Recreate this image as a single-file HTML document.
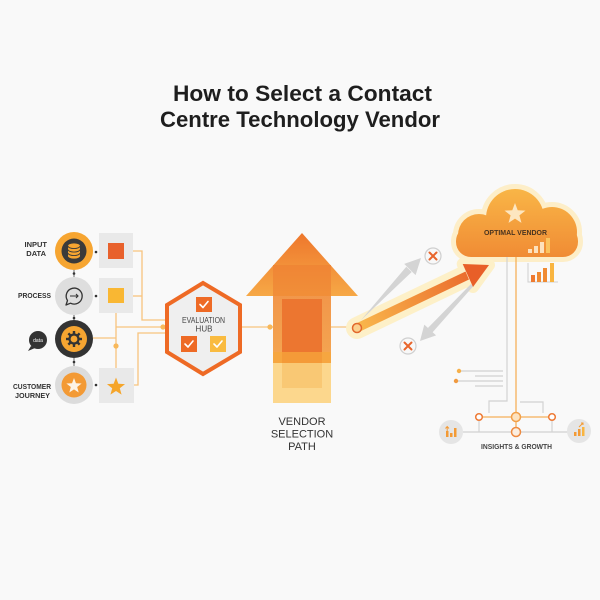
<!DOCTYPE html>
<html><head><meta charset="utf-8"><style>
html,body{margin:0;padding:0;background:#f9f9f9;}
svg{display:block;}
text{font-family:"Liberation Sans",sans-serif;}
</style></head><body>
<svg width="600" height="600" viewBox="0 0 600 600" xmlns="http://www.w3.org/2000/svg">
<defs>
<linearGradient id="headG" x1="0" y1="233" x2="0" y2="296" gradientUnits="userSpaceOnUse"><stop offset="0" stop-color="#ee772c"/><stop offset="1" stop-color="#f6a846"/></linearGradient>
<linearGradient id="shaftG" x1="0" y1="265" x2="0" y2="352" gradientUnits="userSpaceOnUse"><stop offset="0" stop-color="#ef8434"/><stop offset="1" stop-color="#f39a3d"/></linearGradient>
<linearGradient id="arrG" x1="357" y1="328" x2="489" y2="265" gradientUnits="userSpaceOnUse"><stop offset="0" stop-color="#f9b84c"/><stop offset="1" stop-color="#e85f28"/></linearGradient>
<linearGradient id="cloudG" x1="0" y1="188" x2="0" y2="258" gradientUnits="userSpaceOnUse"><stop offset="0" stop-color="#f9b647"/><stop offset="1" stop-color="#f08b34"/></linearGradient>
</defs>

<!-- Title -->
<text x="173" y="101" font-size="22" font-weight="bold" fill="#1e1e1e" textLength="259" lengthAdjust="spacingAndGlyphs">How to Select a Contact</text>
<text x="160" y="127" font-size="22" font-weight="bold" fill="#1e1e1e" textLength="280" lengthAdjust="spacingAndGlyphs">Centre Technology Vendor</text>

<!-- left orange connector lines -->
<g fill="none" stroke="#f8c47e" stroke-width="1.3">
<path d="M133 251 H142 V320 H167"/>
<path d="M133 296 H142"/>
<path d="M116 313 V368"/>
<path d="M93 338 H116"/>
<path d="M116 327 H167"/>
<path d="M134 385 H138 V333 H167"/>
<path d="M241 327 H273"/>
<path d="M331 327 H353"/>
</g>
<circle cx="116" cy="346" r="2.6" fill="#f8b85a"/>
<circle cx="163" cy="327" r="2.6" fill="#f8b85a"/>
<circle cx="270" cy="327" r="2.6" fill="#f8b85a"/>

<!-- left labels -->
<g font-size="7.5" font-weight="bold" fill="#333" text-anchor="end">
<text x="47" y="247">INPUT</text>
<text x="46" y="256">DATA</text>
<text x="51" y="298" textLength="33" lengthAdjust="spacingAndGlyphs">PROCESS</text>
<text x="51" y="389" textLength="38" lengthAdjust="spacingAndGlyphs">CUSTOMER</text>
<text x="50" y="398" textLength="35" lengthAdjust="spacingAndGlyphs">JOURNEY</text>
</g>

<!-- data bubble -->
<path d="M31 346 L28 351 L35 348 Z" fill="#333"/>
<circle cx="38" cy="340" r="9" fill="#333"/>
<text x="38" y="342" font-size="5" fill="#fff" text-anchor="middle">data</text>

<!-- vertical small connectors between circles -->
<g stroke="#444" stroke-width="0.8">
<line x1="74" y1="270" x2="74" y2="277"/>
<line x1="74" y1="315" x2="74" y2="320"/>
<line x1="74" y1="358" x2="74" y2="366"/>
</g>
<g fill="#333">
<circle cx="74" cy="273.5" r="1.3"/><circle cx="74" cy="318" r="1.3"/><circle cx="74" cy="362" r="1.3"/>
<circle cx="96" cy="252" r="1.3"/><circle cx="96" cy="296" r="1.3"/><circle cx="96" cy="385" r="1.3"/>
</g>

<!-- Circle 1: input data -->
<circle cx="74" cy="251" r="19" fill="#f6a531"/>
<circle cx="74" cy="251" r="12.5" fill="#3a3a3a"/>
<path d="M68 246 V256 A6 2.6 0 0 0 80 256 V246 A6 2.6 0 0 0 68 246 Z" fill="#f6a531"/>
<g fill="none" stroke="#3a3a3a" stroke-width="0.9">
<path d="M68 246 A6 2.6 0 0 0 80 246"/>
<path d="M68 249.5 A6 2.6 0 0 0 80 249.5"/>
<path d="M68 253 A6 2.6 0 0 0 80 253"/>
</g>

<!-- Circle 2: process -->
<circle cx="74" cy="296" r="19" fill="#dedede"/>
<path d="M67.5 300.5 A8 8 0 1 1 70.5 303.2 L66 305 Z" fill="none" stroke="#333" stroke-width="1.3" stroke-linejoin="round"/>
<path d="M70 296 H78 M76 294 L78 296 L76 298" fill="none" stroke="#333" stroke-width="1.1"/>

<!-- Circle 3: gear -->
<circle cx="74" cy="339" r="19" fill="#333"/>
<circle cx="74" cy="339" r="13" fill="#f6a531"/>
<g transform="translate(74,339)" fill="#333">
<rect x="-1.2" y="-8" width="2.4" height="16"/>
<rect x="-1.2" y="-8" width="2.4" height="16" transform="rotate(45)"/>
<rect x="-1.2" y="-8" width="2.4" height="16" transform="rotate(90)"/>
<rect x="-1.2" y="-8" width="2.4" height="16" transform="rotate(135)"/>
<circle r="5.6" fill="#333"/>
<circle r="3.4" fill="#f6a531"/>
</g>

<!-- Circle 4: star -->
<circle cx="74" cy="385" r="19" fill="#dcdcdc"/>
<circle cx="74" cy="385" r="12.5" fill="#f39a35"/>
<polygon transform="translate(74,386) scale(8)" fill="#fdf3e6" points="0,-1 0.247,-0.34 0.951,-0.309 0.399,0.13 0.588,0.809 0,0.42 -0.588,0.809 -0.399,0.13 -0.951,-0.309 -0.247,-0.34"/>

<!-- Squares -->
<rect x="99" y="233" width="34" height="35" fill="#e9e9e9"/>
<rect x="108" y="243" width="16" height="16" fill="#e8612c"/>
<rect x="99" y="278" width="34" height="35" fill="#e9e9e9"/>
<rect x="108" y="288" width="16" height="15" fill="#f9b733"/>
<rect x="99" y="368" width="35" height="35" fill="#e9e9e9"/>
<polygon transform="translate(116,387) scale(9.5)" fill="#f5a52a" points="0,-1 0.247,-0.34 0.951,-0.309 0.399,0.13 0.588,0.809 0,0.42 -0.588,0.809 -0.399,0.13 -0.951,-0.309 -0.247,-0.34"/>

<!-- Hexagon -->
<polygon points="203,283 240,305 240,352 203,374 167,352 167,305" fill="#efefef" stroke="#ee6a25" stroke-width="4" stroke-linejoin="miter"/>
<rect x="196" y="297" width="16" height="15" fill="#ee6a25"/>
<rect x="181" y="336" width="16" height="16" fill="#ee6a25"/>
<rect x="210" y="336" width="16" height="16" fill="#f9bb40"/>
<g fill="none" stroke="#fff" stroke-width="1.6" stroke-linecap="round" stroke-linejoin="round">
<path d="M200 304.5 L203 307.5 L208 301.5"/>
<path d="M185 344 L188 347 L193 341"/>
<path d="M214 344 L217 347 L222 341"/>
</g>
<text x="203.5" y="323" font-size="8" fill="#444" text-anchor="middle" textLength="43" lengthAdjust="spacingAndGlyphs">EVALUATION</text>
<text x="204" y="331.5" font-size="8" fill="#444" text-anchor="middle">HUB</text>

<!-- Big arrow -->
<polygon points="302,233 358,296 246,296" fill="url(#headG)"/>
<rect x="273" y="265" width="58" height="87" fill="url(#shaftG)" opacity="0.9"/>
<rect x="273" y="352" width="58" height="11" fill="#f6a640"/>
<rect x="273" y="363" width="58" height="40" fill="#fcd78d"/>
<rect x="282" y="299" width="40" height="53" fill="#ec7630"/>
<rect x="282" y="352" width="40" height="11" fill="#f49a38"/>
<rect x="282" y="363" width="40" height="25" fill="#f9c874"/>
<g font-size="11" fill="#333" text-anchor="middle">
<text x="302" y="425">VENDOR</text>
<text x="302" y="437.5">SELECTION</text>
<text x="302" y="450">PATH</text>
</g>

<!-- Cloud halo -->
<g fill="#fdeec8" stroke="#fdeec8" stroke-width="10" stroke-linejoin="round">
<circle cx="479" cy="235" r="21"/>
<circle cx="515" cy="218" r="29"/>
<circle cx="552" cy="232" r="25"/>
<rect x="456" y="226" width="122" height="31" rx="15"/>
</g>
<!-- Glow around main arrow -->
<line x1="357" y1="328" x2="470" y2="274" stroke="#fdf0c8" stroke-width="22" stroke-linecap="round"/>
<polygon points="489,265 462.7,264 473,287" fill="#fdf0c8" stroke="#fdf0c8" stroke-width="12" stroke-linejoin="round"/>

<!-- Cloud -->
<g fill="url(#cloudG)">
<circle cx="479" cy="235" r="21"/>
<circle cx="515" cy="218" r="29"/>
<circle cx="552" cy="232" r="25"/>
<rect x="456" y="226" width="122" height="31" rx="15"/>
</g>
<polygon transform="translate(515,214) scale(11)" fill="#fde6c0" points="0,-1 0.247,-0.34 0.951,-0.309 0.399,0.13 0.588,0.809 0,0.42 -0.588,0.809 -0.399,0.13 -0.951,-0.309 -0.247,-0.34"/>
<text x="515.5" y="235" font-size="7" font-weight="bold" fill="#4a3420" text-anchor="middle" textLength="63" lengthAdjust="spacingAndGlyphs">OPTIMAL VENDOR</text>
<g fill="#fde1bc">
<rect x="528" y="249" width="4" height="4"/>
<rect x="534" y="246" width="4" height="7"/>
<rect x="540" y="242" width="4" height="11"/>
<rect x="546" y="238" width="4" height="15" fill="#fbc35e"/>
</g>

<!-- Outer bar chart -->
<path d="M528 263 V282 H558" fill="none" stroke="#cfcfcf" stroke-width="1"/>
<rect x="531" y="275" width="4" height="7" fill="#ef7a30"/>
<rect x="537" y="272" width="4" height="10" fill="#f08a32"/>
<rect x="543" y="268" width="4" height="14" fill="#f08a32"/>
<rect x="550" y="263" width="4" height="19" fill="#f9b540"/>

<!-- Grey arrows -->
<polygon points="357,324 359,322.5 406.3,266.7 411.7,272" fill="#d4d4d4"/>
<polygon points="421,258 415.6,275.1 404.2,263.9" fill="#d4d4d4"/>
<polygon points="471,284 473,286.5 432.5,332.4 427.9,328" fill="#d4d4d4"/>
<polygon points="420,341 436.1,335.4 424.3,324.6" fill="#d4d4d4"/>

<!-- Main orange arrow -->
<polygon points="355,324 359,332 469,279.5 465.5,271.5" fill="url(#arrG)"/>
<polygon points="489,265 462.7,264 473,287" fill="#e85f28"/>
<circle cx="357" cy="328" r="4.5" fill="#fbd08d" stroke="#e2682c" stroke-width="1.5"/>

<!-- X circles -->
<circle cx="433" cy="256" r="8" fill="#f8f8f8" stroke="#cfcfcf" stroke-width="1.2"/>
<path d="M429.5 252.5 L436.5 259.5 M436.5 252.5 L429.5 259.5" stroke="#e8652c" stroke-width="2" stroke-linecap="round"/>
<circle cx="408" cy="346" r="8" fill="#f8f8f8" stroke="#cfcfcf" stroke-width="1.2"/>
<path d="M404.5 342.5 L411.5 349.5 M411.5 342.5 L404.5 349.5" stroke="#e8652c" stroke-width="2" stroke-linecap="round"/>

<!-- Bottom right structure -->
<g fill="none" stroke="#d2d2d2" stroke-width="1.2">
<path d="M459 371 H503"/><path d="M475 376 H503"/><path d="M456 381 H503"/><path d="M475 386 H503"/>
<path d="M507 257 V401 H489 V413"/>
<path d="M520 402 H543 V413"/>
<path d="M463 432 H568"/>
<path d="M479 420 V432"/><path d="M552 420 V432"/>
</g>
<g fill="none" stroke="#f6b05a" stroke-width="1.3">
<path d="M516 257 V413"/>
<path d="M482 417 H549"/>
<path d="M516 421 V428"/>
</g>
<circle cx="459" cy="371" r="2.2" fill="#f6b04a"/>
<circle cx="456" cy="381" r="2.2" fill="#f09a40"/>
<circle cx="516" cy="417" r="4.5" fill="#fde3c0" stroke="#f2a04a" stroke-width="1.5"/>
<circle cx="479" cy="417" r="3.3" fill="#fff" stroke="#ee7a35" stroke-width="1.5"/>
<circle cx="552" cy="417" r="3.3" fill="#fff" stroke="#ee7a35" stroke-width="1.5"/>
<circle cx="516" cy="432" r="4.5" fill="#fbeee0" stroke="#ee8a40" stroke-width="1.5"/>

<circle cx="451" cy="432" r="12" fill="#e5e5e5"/>
<g fill="#f39a35">
<rect x="446" y="431" width="2.5" height="6"/>
<rect x="450" y="433" width="2.5" height="4"/>
<rect x="454" y="428" width="2.5" height="9"/>
</g>
<path d="M447.2 431 V427 M445.5 428.5 L447.2 426.5 L449 428.5" fill="none" stroke="#f39a35" stroke-width="1"/>
<circle cx="579" cy="431" r="12" fill="#e5e5e5"/>
<g fill="#f39a35">
<rect x="574" y="432" width="2.5" height="4"/>
<rect x="578" y="429" width="2.5" height="7"/>
<rect x="582" y="427" width="2.5" height="9" fill="#f9b540"/>
</g>
<path d="M579 427 L583 423 M581 423 H583 V425" fill="none" stroke="#f39a35" stroke-width="1"/>

<text x="516.5" y="449" font-size="7" font-weight="bold" fill="#444" text-anchor="middle" textLength="71" lengthAdjust="spacingAndGlyphs">INSIGHTS &amp; GROWTH</text>
</svg>
</body></html>
